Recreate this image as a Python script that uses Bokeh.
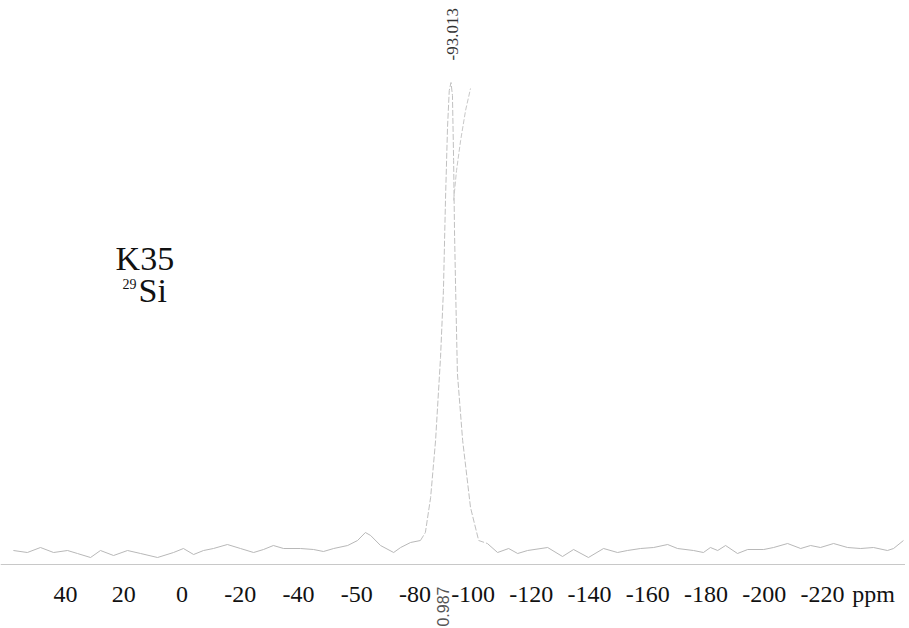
import math
from bokeh.plotting import figure
from bokeh.models import Range1d, FixedTicker, Label, LinearAxis
from bokeh.core.properties import value
from bokeh.embed import file_html
from bokeh.resources import INLINE

# ---- data ----
# 29Si spectrum: chemical shift (ppm) and intensity (arbitrary units)
shift_ppm = [57.9, 53.1, 48.6, 44.1, 39.3, 35.9, 31.4, 28.0, 23.5, 18.7, 14.2, 8.4,
             2.9, -0.5, -4.0, -7.4, -10.8, -15.6, -20.1, -24.6, -28.0, -31.4, -34.9,
             -40.7, -45.2, -48.6, -52.1, -56.9, -60.3, -63.0, -64.8, -68.2, -72.7,
             -75.1, -78.5, -81.9, -83.6, -85.4, -87.1, -88.8, -89.8, -90.5, -91.2,
             -91.8, -92.4, -92.9, -93.3, -93.6, -94.0, -94.6, -96.4, -99.1, -101.9,
             -104.9, -108.4, -112.2, -115.3, -118.7, -125.6, -130.7, -134.5, -139.6,
             -144.8, -149.6, -153.0, -157.5, -162.0, -166.8, -170.2, -175.7, -179.1,
             -181.5, -184.0, -186.7, -190.8, -194.3, -199.8, -203.2, -208.0, -212.5,
             -215.9, -219.3, -223.8, -228.6, -233.1, -237.5, -242.3, -244.4, -247.8]
intensity = [14, 12, 17, 12, 14, 11, 7, 14, 9, 14, 11, 7,
             12, 16, 10, 14, 16, 20, 16, 12, 15, 19, 16,
             16, 15, 13, 16, 19, 24, 32, 29, 19, 12,
             17, 22, 24, 32, 67, 124, 207, 274, 364, 437,
             474, 482, 469, 404, 334, 274, 191, 124, 57, 24,
             21, 12, 16, 11, 14, 17, 8, 15, 7,
             16, 12, 14, 16, 17, 20, 16, 14, 12,
             17, 14, 19, 11, 15, 15, 17, 21, 16,
             19, 17, 21, 17, 16, 17, 14, 16, 24]

# upper part of the integral trace
integral_ppm = [-93.3, -94.3, -95.7, -97.4, -99.1]
integral_val = [364, 394, 424, 454, 476]

peak_ppm = -93.013
peak_label = "-93.013"
integral_label = "0.987"

tick_ppm = [40, 20, 0, -20, -40, -60, -80, -100, -120, -140, -160, -180, -200, -220, -237.5]
tick_text = ["40", "20", "0", "-20", "-40", "-50", "-80", "-100", "-120", "-140",
             "-160", "-180", "-200", "-220", "ppm"]

sample_name = "K35"
nucleus_mass = "29"
nucleus_symbol = "Si"

# ---- figure ----
p = figure(width=905, height=626, output_backend="svg", toolbar_location=None,
           x_range=Range1d(62.33, -248.5), y_range=Range1d(-62, 564),
           x_axis_location=None, y_axis_location=None,
           min_border_left=0, min_border_right=0, min_border_top=0, min_border_bottom=0)
p.outline_line_color = None
p.grid.visible = False
p.background_fill_color = "white"
p.border_fill_color = "white"

# baseline parts (solid, light) and the peak (fainter, broken)
i0, i1 = 35, 53
p.line(shift_ppm[:i0 + 1], intensity[:i0 + 1], line_color="#b8b8b8", line_width=1)
p.line(shift_ppm[i1:], intensity[i1:], line_color="#b8b8b8", line_width=1)
p.line(shift_ppm[i0:i1 + 1], intensity[i0:i1 + 1], line_color="#c0c0c0", line_width=1,
       line_dash="6 2")
p.line(integral_ppm, integral_val, line_color="#c8c8c8", line_width=1, line_dash="5 2")

ax = LinearAxis(fixed_location=0)
ax.ticker = FixedTicker(ticks=tick_ppm)
ax.major_label_overrides = {t: s for t, s in zip(tick_ppm, tick_text)}
ax.axis_line_color = "#c8c8c8"
ax.axis_line_width = 1
ax.major_tick_line_color = None
ax.minor_tick_line_color = None
ax.major_tick_out = 0
ax.major_tick_in = 0
ax.major_label_standoff = 16
ax.major_label_text_font = "Liberation Serif"
ax.major_label_text_font_size = "24px"
ax.major_label_text_color = "#111111"
p.add_layout(ax, "below")

# sample annotation
p.add_layout(Label(x=22.8, y=306, text=sample_name, text_font="Liberation Serif",
                   text_font_size="34px", text_color="#111111",
                   text_baseline="alphabetic", text_align="left"))
p.add_layout(Label(x=20.4, y=281, text=nucleus_mass, text_font="Liberation Serif",
                   text_font_size="14px", text_color="#111111",
                   text_baseline="alphabetic", text_align="left"))
p.add_layout(Label(x=14.9, y=274, text=nucleus_symbol, text_font="Liberation Serif",
                   text_font_size="34px", text_color="#111111",
                   text_baseline="alphabetic", text_align="left"))

# peak label (rotated)
p.add_layout(Label(x=peak_ppm, y=504, text=peak_label, angle=math.pi / 2,
                   text_font="Liberation Serif", text_font_size="17px",
                   text_color="#333333", text_baseline="middle", text_align="left"))
# integral value (rotated, below the axis line)
p.text(x=[-89.8], y=[-22], text=[integral_label], angle=math.pi / 2,
       text_font=value("Liberation Sans"), text_font_size="16px",
       text_color="#555555", text_baseline="middle", text_align="right")

open("out.html", "w").write(file_html(p, INLINE))
